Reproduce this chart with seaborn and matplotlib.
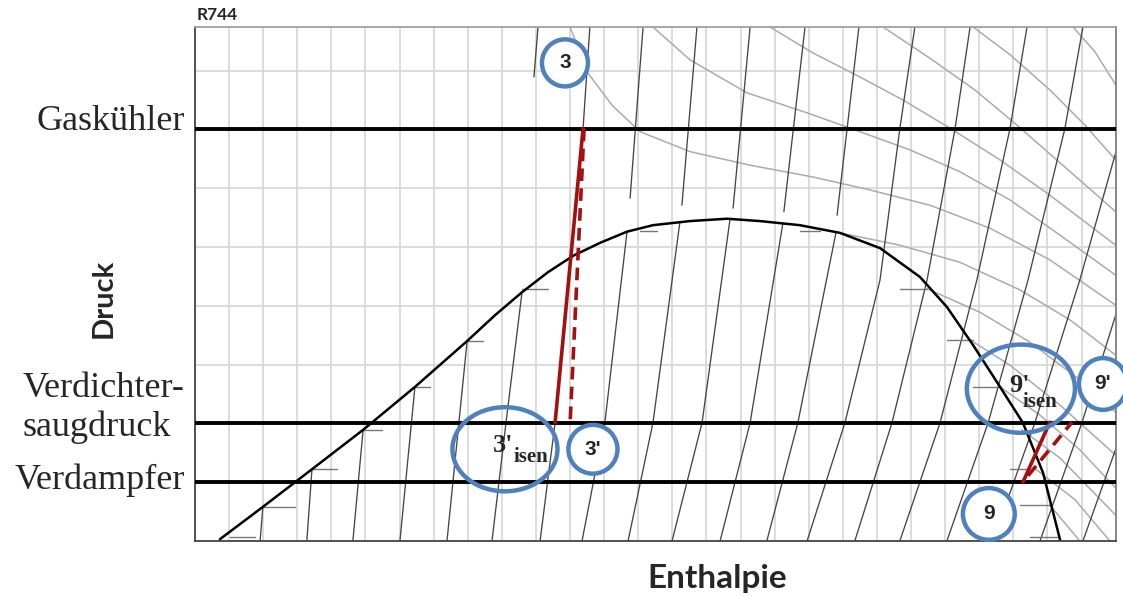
import pandas as pd
import seaborn as sns
import matplotlib.pyplot as plt
from matplotlib.patches import Ellipse

# ---------------------------------------
# Data (h = enthalpy, p = pressure, in grid cells of the chart)
# ---------------------------------------
dome_h = [0.73, 1.99, 3.43, 4.93, 6.45, 7.98, 8.80, 9.59, 10.35, 11.09, 11.88, 12.67,
          13.43, 14.52, 15.60, 16.57, 17.74, 18.91, 20.09, 21.26, 22.05, 22.82, 23.61,
          24.28, 24.87, 25.37]
dome_p = [0.03, 0.58, 1.22, 1.89, 2.62, 3.40, 3.84, 4.23, 4.57, 4.85, 5.07, 5.26,
          5.37, 5.44, 5.48, 5.44, 5.37, 5.24, 4.98, 4.49, 3.98, 3.33, 2.62,
          2.01, 1.16, 0.02]

# isotherm stubs inside the two-phase region (h_start, h_end, p)
stub_h0 = [1.03, 1.99, 3.43, 4.93, 6.45, 7.98, 9.59, 13.05,
           17.74, 20.67, 22.05, 22.82, 23.90, 24.19, 24.49]
stub_h1 = [1.76, 2.93, 4.16, 5.48, 6.89, 8.45, 10.35, 13.55,
           18.33, 21.47, 22.82, 23.61, 24.40, 25.07, 25.28]
stub_p = [0.07, 0.58, 1.22, 1.89, 2.62, 3.40, 4.29, 5.27,
          5.27, 4.29, 3.42, 2.62, 1.22, 0.61, 0.07]

# isentropes starting on the liquid line
isen_left = [
    [(1.99, 0.58), (1.91, 0)],
    [(3.43, 1.22), (3.28, 0)],
    [(4.93, 1.89), (4.63, 0)],
    [(6.45, 2.62), (6.01, 0)],
    [(7.98, 3.40), (7.39, 0)],
    [(9.59, 4.23), (9.12, 2.01), (8.71, 0)],
]
# isentropes above the critical point (broken around the dome top)
isen_upper = [
    [(10.06, 8.74), (9.94, 7.89)],
    [(13.14, 8.74), (12.76, 5.83)],
    [(14.72, 8.74), (14.28, 5.71)],
    [(16.28, 8.74), (15.78, 5.66)],
    [(17.89, 8.74), (17.27, 5.60)],
    [(19.47, 8.74), (18.83, 5.54)],
]
isen_lower = [
    [(12.67, 5.26), (12.02, 2.01), (11.35, 0)],
    [(14.22, 5.42), (13.43, 2.01), (12.70, 0)],
    [(15.69, 5.47), (14.87, 2.01), (13.99, 0)],
    [(17.24, 5.40), (16.28, 2.01), (15.40, 0)],
    [(18.80, 5.25), (17.68, 2.01), (16.77, 0)],
]
isen_full = [
    [(11.58, 8.74), (11.38, 7.01), (10.56, 2.01), (10.12, 0)],
    [(21.11, 8.74), (20.67, 7.01), (20.09, 4.44), (19.06, 2.01), (17.95, 0)],
    [(22.73, 8.74), (22.29, 7.01), (21.47, 4.44), (20.44, 2.01), (19.35, 0)],
    [(24.40, 8.74), (23.90, 7.01), (22.93, 4.44), (21.85, 2.01), (20.67, 0)],
    [(26.04, 8.74), (25.51, 7.01), (24.43, 4.44), (23.26, 2.01), (22.05, 0)],
    [(27.0, 6.60), (25.95, 4.44), (24.63, 2.01), (23.40, 0)],
    [(27.0, 3.84), (26.01, 2.01), (24.78, 0)],
    [(27.0, 1.56), (26.04, 0)],
]

# isotherms in the gas / supercritical region
isotherms = [
    [(11.0, 8.74), (11.52, 7.96), (12.23, 7.41), (13.05, 6.96), (14.52, 6.62), (16.28, 6.39),
     (18.12, 6.19), (19.79, 5.97), (21.55, 5.71), (23.31, 5.32), (25.07, 4.78), (27.0, 4.01)],
    [(13.43, 8.74), (14.52, 8.18), (16.19, 7.62), (17.95, 7.28), (19.50, 6.96), (20.97, 6.65),
     (22.43, 6.28), (23.90, 5.80), (25.37, 5.20), (27.0, 4.52)],
    [(16.86, 8.74), (18.12, 8.30), (19.50, 7.89), (20.76, 7.50), (22.14, 7.02), (23.61, 6.48),
     (25.07, 5.88), (27.0, 5.03)],
    [(20.18, 8.74), (21.55, 8.21), (22.87, 7.67), (24.11, 7.07), (25.37, 6.43), (27.0, 5.60)],
    [(22.82, 8.74), (23.90, 8.27), (25.07, 7.67), (26.10, 7.07), (27.0, 6.48)],
    [(25.75, 8.74), (26.39, 8.32), (27.0, 7.76)],
    [(18.91, 5.24), (20.67, 5.03), (22.43, 4.74), (24.19, 4.27), (25.66, 3.76), (27.0, 3.16)],
    [(21.47, 4.29), (23.02, 3.89), (24.49, 3.38), (25.95, 2.74), (27.0, 2.19)],
    [(22.73, 3.42), (23.90, 2.99), (25.37, 2.31), (27.0, 1.46)],
    [(23.61, 2.62), (24.78, 2.14), (25.95, 1.55), (27.0, 0.90)],
    [(24.25, 1.89), (25.37, 1.41), (27.0, 0.44)],
    [(24.66, 1.22), (25.81, 0.70), (26.83, 0)],
    [(25.07, 0.61), (25.95, 0)],
]

# compression lines (real / isentropic)
comp3_real = [(11.38, 7.01), (10.56, 2.01)]
comp3_isen = [(11.41, 7.01), (11.0, 2.01)]
comp9_real = [(24.28, 1.00), (25.07, 2.02)]
comp9_isen = [(24.43, 1.11), (25.72, 2.02)]

# pressure levels
level_p = [7, 2, 1]
level_names = ['Gaskühler', 'Verdichter-\nsaugdruck', 'Verdampfer']
level_label_p = [7.13, 2.26, 1.04]

# state point markers: label, h, p, width, height
point_labels = ['3', "3'", '9', "9'"]
point_h = [10.85, 11.67, 23.28, 26.63]
point_p = [8.13, 1.56, 0.46, 2.67]
point_w = [1.35, 1.44, 1.52, 1.41]
point_ht = [0.80, 0.83, 0.88, 0.88]

isen_labels = ["3'", "9'"]
isen_h = [9.09, 24.22]
isen_p = [1.56, 2.59]
isen_w = [3.08, 3.17]
isen_ht = [1.43, 1.50]


def to_long(segments):
    rows = []
    for i, seg in enumerate(segments):
        for h, p in seg:
            rows.append({'seg': i, 'h': h, 'p': p})
    return pd.DataFrame(rows)


# ---------------------------------------
# Styling
# ---------------------------------------
sns.set_style("white")
plt.rcParams['font.family'] = ['Liberation Serif', 'DejaVu Serif']

fig = plt.figure(figsize=(11.23, 5.96), dpi=100)
ax = fig.add_axes([195 / 1123, 55 / 596, 921 / 1123, 514 / 596])

blue = '#4f81bd'
red = '#a50f0f'

# ---------------------------------------
# Background line families
# ---------------------------------------
sns.lineplot(data=to_long(isotherms), x='h', y='p', units='seg', estimator=None,
             sort=False, color='#ababab', lw=1.1, ax=ax, legend=False)
for segs in (isen_left, isen_upper, isen_lower, isen_full):
    sns.lineplot(data=to_long(segs), x='h', y='p', units='seg', estimator=None,
                 sort=False, color='#454545', lw=0.95, ax=ax, legend=False)
stubs = [[(a, p), (b, p)] for a, b, p in zip(stub_h0, stub_h1, stub_p)]
sns.lineplot(data=to_long(stubs), x='h', y='p', units='seg', estimator=None,
             sort=False, color='#777777', lw=1.0, ax=ax, legend=False)

# saturation dome
sns.lineplot(x=dome_h, y=dome_p, sort=False, estimator=None, color='black', lw=1.8, ax=ax)

# pressure levels
for p in level_p:
    ax.axhline(p, color='black', lw=2.8, zorder=4)

# compression lines
for seg, dashed in ((comp3_real, False), (comp3_isen, True),
                    (comp9_real, False), (comp9_isen, True)):
    sns.lineplot(data=to_long([seg]), x='h', y='p', units='seg', estimator=None,
                 sort=False, color=red, lw=2.6, ax=ax, legend=False, zorder=5)
    if dashed:
        ax.lines[-1].set_dashes([3.5, 2])

# ---------------------------------------
# Markers
# ---------------------------------------
for lab, h, p, w, hh in zip(point_labels, point_h, point_p, point_w, point_ht):
    ax.add_patch(Ellipse((h, p), w, hh, facecolor='white', edgecolor=blue,
                         lw=3.2, zorder=8, clip_on=False))
    ax.text(h, p, lab, ha='center', va='center', fontsize=15, fontweight='bold',
            family=['Liberation Sans', 'DejaVu Sans'], zorder=9)

for lab, h, p, w, hh in zip(isen_labels, isen_h, isen_p, isen_w, isen_ht):
    ax.add_patch(Ellipse((h, p), w, hh, facecolor='none', edgecolor=blue,
                         lw=3.2, zorder=8, clip_on=False))

ax.text(9.03, 1.62, "3'", ha='center', va='center', fontsize=19, fontweight='bold', zorder=9)
ax.text(9.33, 1.42, "isen", ha='left', va='center', fontsize=15, fontweight='bold', zorder=9)
ax.text(24.19, 2.65, "9'", ha='center', va='center', fontsize=19, fontweight='bold', zorder=9)
ax.text(24.28, 2.37, "isen", ha='left', va='center', fontsize=15, fontweight='bold', zorder=9)

# ---------------------------------------
# Axes, grid and labels
# ---------------------------------------
ax.set_xlim(0, 27.01)
ax.set_ylim(0, 8.74)
ax.set_xticks(range(0, 28))
ax.set_yticks(range(0, 9))
ax.set_xticklabels([])
ax.set_yticklabels([])
ax.tick_params(length=0)
ax.grid(True, color='#d6d6d6', lw=1.2)
ax.set_axisbelow(True)
ax.set_xlabel('')
ax.set_ylabel('')
ax.spines['left'].set_color('#444444')
ax.spines['bottom'].set_color('#444444')
ax.spines['top'].set_color('#a0a0a0')
ax.spines['right'].set_color('#808080')
for s in ax.spines.values():
    s.set_linewidth(1.3)

ytr = ax.get_yaxis_transform()
for name, p in zip(level_names, level_label_p):
    ax.text(-0.011, p, name, transform=ytr, ha='right', va='center',
            multialignment='left', fontsize=26, linespacing=1.2)

sans = ['Lato', 'DejaVu Sans']
ax.text(-0.099, 4.13, 'Druck', transform=ytr, rotation=90, ha='center', va='center',
        fontsize=21, fontweight='bold', family=sans)
ax.text(0.567, -0.072, 'Enthalpie', transform=ax.transAxes, ha='center', va='center',
        fontsize=24, fontweight='bold', family=sans)
ax.text(0.002, 1.023, 'R744', transform=ax.transAxes, ha='left', va='center',
        fontsize=12.5, fontweight='bold', family=sans)

plt.savefig('out.png', dpi=100)
plt.close()
